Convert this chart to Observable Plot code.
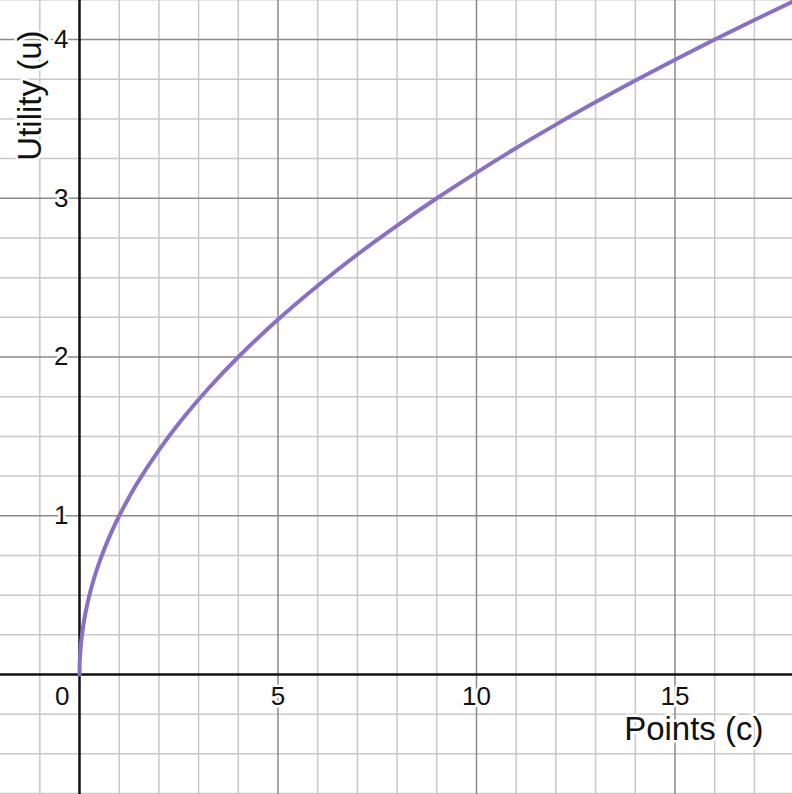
<!DOCTYPE html>
<html>
<head>
<meta charset="utf-8">
<script src="https://cdn.jsdelivr.net/npm/d3@7"></script>
<script src="https://cdn.jsdelivr.net/npm/@observablehq/plot@0.6"></script>
<style>
  html, body { margin: 0; padding: 0; background: #fff; }
  svg { display: block; }
</style>
</head>
<body>
<div id="chart"></div>
<script>
// Curve u = utility (points c)
const points = [0, 0.0025, 0.01, 0.04, 0.09, 0.16, 0.25, 0.36, 0.49, 0.64, 0.81, 1, 1.44, 2, 2.56, 3.24, 4, 5, 6, 7, 8, 9, 10, 11, 12, 13, 14, 15, 16, 17, 18];
const utility = [0, 0.05, 0.1, 0.2, 0.3, 0.4, 0.5, 0.6, 0.7, 0.8, 0.9, 1, 1.2, 1.414, 1.6, 1.8, 2, 2.236, 2.449, 2.646, 2.828, 3, 3.162, 3.317, 3.464, 3.606, 3.742, 3.873, 4, 4.123, 4.243];

// Axis ticks and grid
const xDomain = [-1.99, 17.96];
const yDomain = [-0.756, 4.246];
const xMajor = [5, 10, 15];
const xMinor = [-1, 1, 2, 3, 4, 6, 7, 8, 9, 11, 12, 13, 14, 16, 17];
const yMajor = [1, 2, 3, 4];
const yMinor = [-0.75, -0.5, -0.25, 0.25, 0.5, 0.75, 1.25, 1.5, 1.75, 2.25, 2.5, 2.75, 3.25, 3.5, 3.75, 4.25];
const xTickLabels = ["5", "10", "15"];
const yTickLabels = ["1", "2", "3", "4"];
const xTitle = "Points (c)";
const yTitle = "Utility (u)";

const curve = points.map((c, i) => ({c, u: utility[i]}));
const font = "'Liberation Sans', Arial, Helvetica, sans-serif";
const halo = {fill: "#111", stroke: "#fff", strokeWidth: 5, paintOrder: "stroke"};

const chart = Plot.plot({
  width: 792,
  height: 794,
  margin: 0,
  x: {domain: xDomain, axis: null},
  y: {domain: yDomain, axis: null},
  style: {fontFamily: font, background: "#fff"},
  marks: [
    Plot.ruleX(xMinor, {stroke: "#c8c8c8", strokeWidth: 1.5}),
    Plot.ruleY(yMinor, {stroke: "#c8c8c8", strokeWidth: 1.5}),
    Plot.ruleX(xMajor, {stroke: "#8a8a8a", strokeWidth: 1.5}),
    Plot.ruleY(yMajor, {stroke: "#8a8a8a", strokeWidth: 1.5}),
    Plot.ruleX([0], {stroke: "#111", strokeWidth: 2.5}),
    Plot.ruleY([0], {stroke: "#111", strokeWidth: 2.5}),
    Plot.line(curve, {x: "c", y: "u", stroke: "#8a6fc6", strokeWidth: 4, curve: "catmull-rom", clip: true}),
    // tick labels
    Plot.text(xMajor, {x: d => d, y: 0, text: (d, i) => xTickLabels[i], dy: 22, fontSize: 26, ...halo}),
    Plot.text(yMajor, {x: 0, y: d => d, text: (d, i) => yTickLabels[i], dx: -11, textAnchor: "end", fontSize: 26, ...halo}),
    Plot.text(["0"], {x: 0, y: 0, text: d => d, dx: -10, dy: 22, textAnchor: "end", fontSize: 26, ...halo}),
    // axis titles
    Plot.text([xTitle], {x: 17.96, y: 0, text: d => d, textAnchor: "end", dx: -29, dy: 55, fontSize: 33, ...halo}),
    Plot.text([yTitle], {x: -1.99, y: 4.246, text: d => d, rotate: -90, textAnchor: "end", dx: 30, dy: 30, fontSize: 33, ...halo})
  ]
});
document.getElementById("chart").appendChild(chart);
</script>
</body>
</html>
